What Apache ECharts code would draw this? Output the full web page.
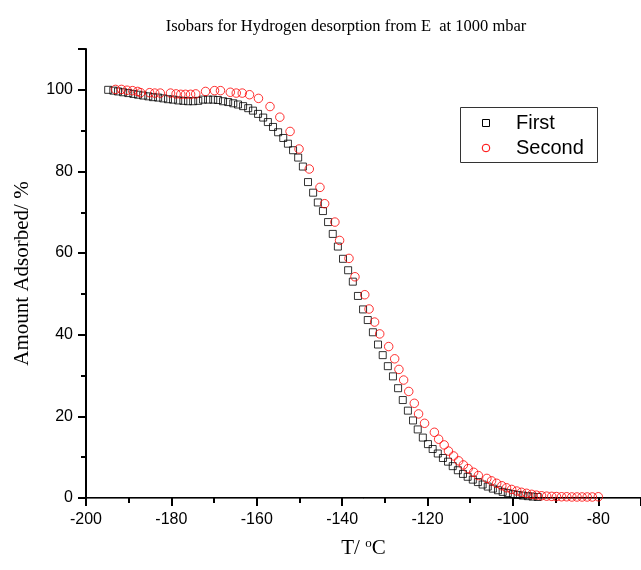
<!DOCTYPE html>
<html>
<head>
<meta charset="utf-8">
<script src="https://cdn.jsdelivr.net/npm/echarts@6/dist/echarts.min.js"></script>
<style>html,body{margin:0;padding:0;background:#fff}#c{width:641px;height:570px}</style>
</head>
<body>
<div id="c"></div>
<script>
var titleText = 'Isobars for Hydrogen desorption from E  at 1000 mbar';
var seriesNames = ['First', 'Second'];
var xTicks = [-200, -180, -160, -140, -120, -100, -80];
var yTicks = [0, 20, 40, 60, 80, 100];

var firstT = [-194.8,-193.6,-192.5,-191.3,-190.1,-188.9,-187.8,-186.6,-185.4,-184.3,-183.1,-181.9,-180.8,-179.6,-178.4,-177.2,-176.1,-174.9,-173.7,-172.6,-171.4,-170.2,-169.1,-167.9,-166.7,-165.5,-164.4,-163.2,-162.0,-160.9,-159.7,-158.5,-157.4,-156.2,-155.0,-153.8,-152.7,-151.5,-150.3,-149.2,-148.0,-146.8,-145.7,-144.5,-143.3,-142.2,-141.0,-139.8,-138.6,-137.5,-136.3,-135.1,-134.0,-132.8,-131.6,-130.5,-129.3,-128.1,-126.9,-125.8,-124.6,-123.4,-122.3,-121.1,-119.9,-118.8,-117.6,-116.4,-115.2,-114.1,-112.9,-111.7,-110.6,-109.4,-108.2,-107.1,-105.9,-104.7,-103.5,-102.4,-101.2,-100.0,-98.9,-97.7,-96.5,-95.4,-94.2];
var firstV = [100.0,99.8,99.6,99.4,99.2,99.0,98.8,98.6,98.4,98.2,98.1,97.9,97.7,97.6,97.4,97.3,97.2,97.2,97.3,97.6,97.6,97.6,97.5,97.2,97.0,96.7,96.4,96.0,95.5,94.9,94.1,93.2,92.1,90.9,89.6,88.2,86.8,85.2,83.4,81.2,77.4,74.8,72.4,70.3,67.6,64.7,61.6,58.6,55.8,53.0,49.5,46.2,43.6,40.6,37.6,35.0,32.3,29.8,26.9,24.0,21.4,19.0,16.8,14.8,13.2,12.0,10.9,9.8,8.9,7.8,6.8,5.9,5.2,4.5,3.9,3.3,2.8,2.3,1.9,1.5,1.2,0.95,0.75,0.6,0.45,0.35,0.25];

var secondT = [-193.1,-191.7,-190.4,-189.1,-187.9,-187.2,-185.1,-183.9,-182.6,-180.2,-178.9,-177.8,-176.7,-175.5,-174.3,-172.0,-169.9,-168.5,-166.2,-164.8,-163.4,-161.7,-159.6,-156.9,-154.6,-152.2,-150.1,-147.7,-145.2,-144.1,-141.7,-140.6,-138.4,-137.0,-134.7,-133.7,-132.4,-131.2,-129.1,-127.7,-126.7,-125.6,-124.4,-123.1,-122.1,-120.7,-118.4,-117.4,-116.1,-115.1,-113.9,-112.7,-111.6,-110.5,-109.2,-108.1,-106.1,-105.0,-103.8,-102.6,-101.5,-100.3,-99.1,-98.0,-96.8,-95.6,-94.5,-93.3,-92.1,-90.9,-89.8,-88.6,-87.4,-86.2,-85.0,-83.8,-82.6,-81.4,-80.0];
var secondV = [100.1,100.1,99.9,99.8,99.6,99.3,99.3,99.2,99.2,99.2,99.0,98.9,98.9,98.9,99.0,99.6,99.8,99.8,99.4,99.2,99.2,98.8,97.9,95.9,93.3,89.8,85.5,80.6,76.1,72.1,67.6,63.1,58.7,54.2,49.8,46.3,43.1,40.2,37.1,34.1,31.5,28.9,26.1,23.2,20.6,18.3,16.1,14.4,13.0,11.5,10.3,9.1,8.1,7.2,6.3,5.5,4.8,4.2,3.6,3.0,2.5,2.1,1.7,1.4,1.15,0.9,0.7,0.55,0.45,0.4,0.35,0.3,0.3,0.25,0.25,0.25,0.25,0.25,0.3];

function pairs(t, v) { return t.map(function (x, i) { return [x, v[i]]; }); }

var chart = echarts.init(document.getElementById('c'), null, {renderer: 'canvas'});
var legendFont = 'normal 20px "Liberation Sans"';
chart.setOption({
  animation: false,
  backgroundColor: '#fff',
  title: {
    text: titleText, left: 341, top: 13, textAlign: 'center',
    textStyle: {fontFamily: 'Liberation Serif', fontWeight: 'normal', fontSize: 16.5, color: '#000'}
  },
  graphic: [
    {type: 'rect', shape: {x: 460.5, y: 107.5, width: 137, height: 55},
     style: {fill: '#fff', stroke: '#333', lineWidth: 1}, z: 10},
    {type: 'rect', shape: {x: 482.5, y: 119.5, width: 7, height: 7},
     style: {fill: 'none', stroke: '#000', lineWidth: 1}, z: 11},
    {type: 'circle', shape: {cx: 486, cy: 148, r: 3.8},
     style: {fill: 'none', stroke: '#ff0000', lineWidth: 1}, z: 11},
    {type: 'text', x: 516, y: 123,
     style: {text: seriesNames[0], font: legendFont, fill: '#000', verticalAlign: 'middle', align: 'left'}, z: 11},
    {type: 'text', x: 516, y: 148,
     style: {text: seriesNames[1], font: legendFont, fill: '#000', verticalAlign: 'middle', align: 'left'}, z: 11}
  ],
  grid: {left: 86, right: -2, top: 49, bottom: 72, containLabel: false},
  xAxis: [{
    type: 'value', min: -200, max: -70, interval: 20,
    position: 'bottom',
    axisLine: {show: true, onZero: false, lineStyle: {color: '#000', width: 2}},
    axisTick: {show: true, inside: false, length: 8, lineStyle: {color: '#000', width: 2}},
    minorTick: {show: true, splitNumber: 2, length: 5, lineStyle: {color: '#000', width: 2}},
    splitLine: {show: false},
    axisLabel: {
      margin: 14, color: '#000', fontFamily: 'Liberation Sans', fontSize: 16,
      showMaxLabel: false,
      formatter: function (v) { return xTicks.indexOf(v) >= 0 ? String(v) : ''; }
    },
    name: '{a|T/ }{s|o}{a|C}', nameLocation: 'middle', nameGap: 39,
    nameTextStyle: {
      rich: {
        a: {fontFamily: 'Liberation Serif', fontSize: 21, color: '#000', verticalAlign: 'bottom'},
        s: {fontFamily: 'Liberation Serif', fontSize: 13, color: '#000', verticalAlign: 'top', padding: [0, 0, 9, 0]}
      }
    }
  }, {
    type: 'value', min: -200, max: -70, position: 'top',
    axisLine: {show: true, lineStyle: {color: '#666', width: 1}},
    axisTick: {show: false}, axisLabel: {show: false}, splitLine: {show: false}
  }],
  yAxis: {
    type: 'value', min: 0, max: 110, interval: 20,
    axisLine: {show: true, onZero: false, lineStyle: {color: '#000', width: 2}},
    axisTick: {show: true, length: 8, lineStyle: {color: '#000', width: 2}},
    minorTick: {show: true, splitNumber: 2, length: 5, lineStyle: {color: '#000', width: 2}},
    splitLine: {show: false},
    axisLabel: {
      margin: 13, color: '#000', fontFamily: 'Liberation Sans', fontSize: 16,
      showMaxLabel: false,
      formatter: function (v) { return yTicks.indexOf(v) >= 0 ? String(v) : ''; }
    },
    name: 'Amount Adsorbed/ %', nameLocation: 'middle', nameGap: 53, nameRotate: 90,
    nameTextStyle: {fontFamily: 'Liberation Serif', fontSize: 21, color: '#000'}
  },
  series: [{
    name: seriesNames[0], type: 'scatter', symbol: 'rect', symbolSize: 7,
    data: pairs(firstT, firstV),
    itemStyle: {color: 'rgba(0,0,0,0)', borderColor: '#000', borderWidth: 1},
    z: 2
  }, {
    name: seriesNames[1], type: 'scatter', symbol: 'circle', symbolSize: 8.5,
    data: pairs(secondT, secondV),
    itemStyle: {color: 'rgba(0,0,0,0)', borderColor: '#ff0000', borderWidth: 1},
    z: 3
  }]
});
</script>
</body>
</html>
